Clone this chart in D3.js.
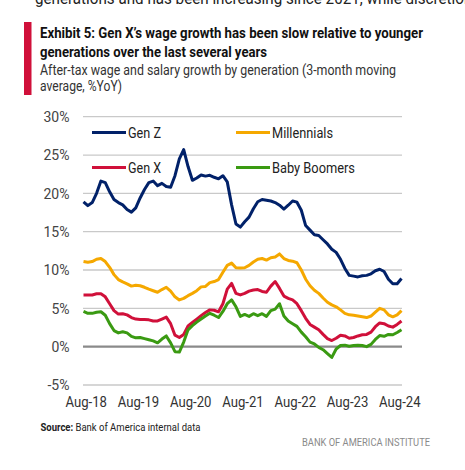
<!DOCTYPE html>
<html><head><meta charset="utf-8">
<script src="https://cdn.jsdelivr.net/npm/d3@7"></script>
<style>
html,body{margin:0;padding:0;background:#fff;}
svg{display:block;}
</style></head>
<body>
<script>
// ---- data ----
const seriesNames = ["Gen Z","Millennials","Gen X","Baby Boomers"];
const tickLabels = ["Aug-18","Aug-19","Aug-20","Aug-21","Aug-22","Aug-23","Aug-24"];
const yTicks = [-5,0,5,10,15,20,25,30];
const genZ = [18.9,18.4,18.8,20.0,21.6,21.4,20.2,19.2,18.8,18.5,17.9,17.55,18.1,19.4,20.5,21.4,21.6,21.0,21.3,20.9,
  20.8,22.3,24.5,25.7,23.5,21.7,22.0,22.4,22.25,22.35,22.1,21.9,22.3,21.5,18.5,16.0,15.6,16.3,16.9,18.0,
  18.9,19.2,19.1,19.0,18.8,18.45,17.95,18.45,19.0,18.85,17.8,15.8,15.2,14.6,14.5,13.95,13.4,12.7,12.3,11.4,
  10.2,9.3,9.2,9.1,9.25,9.3,9.5,9.9,10.1,9.8,8.8,8.2,8.2,8.9];
const millennials = [11.1,11.0,11.1,11.4,11.5,11.1,10.35,9.4,8.75,8.45,8.2,7.9,8.0,7.95,7.75,7.5,7.3,7.1,7.45,7.75,
  7.25,6.5,6.1,6.3,6.65,6.95,7.3,7.8,7.85,8.35,8.5,8.75,9.7,10.6,10.9,10.3,10.25,10.3,10.6,11.05,
  11.4,11.5,11.3,11.6,11.7,12.1,11.5,11.25,11.15,10.95,10.0,8.8,7.95,7.35,6.95,6.35,5.8,5.45,5.2,4.8,
  4.35,4.15,4.1,4.0,3.9,3.8,4.0,4.5,5.0,4.8,4.15,3.9,4.15,4.7];
const genX = [6.75,6.75,6.75,6.9,6.9,6.5,5.6,4.7,4.25,4.3,4.15,3.8,3.6,3.55,3.55,3.5,3.35,3.35,3.6,3.85,
  3.0,1.5,1.2,1.6,2.7,3.15,3.6,4.05,4.45,4.8,4.75,4.55,5.6,7.5,8.25,6.95,6.75,6.95,7.25,7.4,
  7.45,7.2,7.1,7.9,8.5,7.6,6.6,6.3,6.1,5.6,4.7,3.7,2.9,2.55,2.2,1.6,1.05,0.8,1.1,1.5,
  1.4,1.1,1.2,1.4,1.55,1.6,1.9,2.6,3.1,3.0,2.7,2.55,2.9,3.35];
const babyBoomers = [4.6,4.35,4.35,4.5,4.55,4.1,3.0,2.1,1.8,1.95,1.8,1.35,1.15,1.2,1.05,0.9,0.75,0.5,1.0,1.4,
  0.5,-0.65,-0.7,0.6,2.2,2.75,3.2,3.6,4.0,4.35,4.1,3.8,4.6,5.6,6.1,5.2,3.95,4.2,3.95,4.3,
  4.05,4.3,3.95,4.7,4.9,5.6,4.0,3.35,3.0,2.65,1.9,1.3,0.6,0.35,-0.1,-0.4,-0.9,-1.4,-0.3,0.15,
  0.2,0.05,0.15,0.2,0.15,0.0,0.3,0.95,1.45,1.35,1.6,1.55,1.85,2.2];
const seriesValues = [genZ, millennials, genX, babyBoomers];
const colors = ["#012169","#F5A800","#D0103A","#3A9A12"];

// ---- chart ----
const W = 465, H = 470;
const svg = d3.select("body").append("svg").attr("width", W).attr("height", H);
const FONT = "'Roboto','Open Sans',sans-serif";

// cut-off text at top
svg.append("text").attr("x", 35).attr("y", 4).attr("font-family", FONT)
  .attr("font-size", 17).attr("fill", "#222")
  .attr("textLength", 458).attr("lengthAdjust", "spacingAndGlyphs")
  .text("generations and has been increasing since 2021, while discretionary");

// red bar
svg.append("rect").attr("x", 24).attr("y", 22).attr("width", 7.5).attr("height", 73).attr("fill", "#D0103A");

const titleLines = [
  {t:"Exhibit 5: Gen X\u2019s wage growth has been slow relative to younger", y:38, w:383, bold:true, fs:15},
  {t:"generations over the last several years", y:56.5, w:227, bold:true, fs:15},
  {t:"After-tax wage and salary growth by generation (3-month moving", y:75, w:356, bold:false, fs:14.5},
  {t:"average, %YoY)", y:90.5, w:82, bold:false, fs:14.5}
];
titleLines.forEach(l => {
  svg.append("text").attr("x", 40).attr("y", l.y).attr("font-family", FONT)
    .attr("font-size", l.fs).attr("font-weight", l.bold ? "bold" : "normal")
    .attr("fill", l.bold ? "#111" : "#333")
    .attr("textLength", l.w).attr("lengthAdjust", "spacingAndGlyphs")
    .text(l.t);
});

const x = d3.scaleLinear().domain([0, genZ.length - 1]).range([83.5, 401.5]);
const y = d3.scaleLinear().domain([-5, 30]).range([385, 116.7]);

// gridlines
svg.append("g").selectAll("line").data(yTicks).join("line")
  .attr("x1", 83).attr("x2", 402)
  .attr("y1", d => y(d)).attr("y2", d => y(d))
  .attr("stroke", d => d === 0 ? "#8a8a8a" : "#c9c9c9")
  .attr("stroke-width", d => d === 0 ? 2.2 : 1.3);

// y axis labels
const yAxis = d3.axisLeft(y).tickValues(yTicks).tickFormat(d => d + "%").tickSize(0).tickPadding(0);
const gy = svg.append("g").attr("transform", "translate(69.5,0)").call(yAxis);
gy.select(".domain").remove();
gy.selectAll("text").attr("font-family", FONT).attr("font-size", 14).attr("fill", "#444").attr("dy", "0.35em");

// x axis labels
const tickIdx = tickLabels.map((d, i) => i * 12 + 0.5);
const xAxis = d3.axisBottom(x).tickValues(tickIdx).tickFormat((d, i) => tickLabels[i]).tickSize(0).tickPadding(0);
const gx = svg.append("g").attr("transform", "translate(0,396)").call(xAxis);
gx.select(".domain").remove();
gx.selectAll("text").attr("font-family", FONT).attr("font-size", 15).attr("fill", "#333").attr("dy", "0.71em")
  .attr("textLength", 41.5).attr("lengthAdjust", "spacingAndGlyphs");

// lines
const line = d3.line().x((d, i) => x(i)).y(d => y(d)).curve(d3.curveLinear);
seriesValues.forEach((vals, k) => {
  svg.append("path").datum(vals).attr("d", line)
    .attr("fill", "none").attr("stroke", colors[k]).attr("stroke-width", 3)
    .attr("stroke-linejoin", "round").attr("stroke-linecap", "butt");
});

// legend
const legendPos = [[92, 132.5], [236, 132.5], [92, 167.5], [236, 167.5]];
const legendW = [33, 61, 33, 83];
seriesNames.forEach((n, k) => {
  const [lx, ly] = legendPos[k];
  svg.append("line").attr("x1", lx).attr("x2", lx + 34).attr("y1", ly).attr("y2", ly)
    .attr("stroke", colors[k]).attr("stroke-width", 3);
  svg.append("text").attr("x", lx + 36).attr("y", ly).attr("dy", "0.35em")
    .attr("font-family", FONT).attr("font-size", 15).attr("fill", "#222")
    .attr("textLength", legendW[k]).attr("lengthAdjust", "spacingAndGlyphs").text(n);
});

// source
const src = svg.append("text").attr("x", 40.5).attr("y", 431).attr("font-family", FONT)
  .attr("font-size", 10.5).attr("fill", "#222")
  .attr("textLength", 160).attr("lengthAdjust", "spacingAndGlyphs");
src.append("tspan").attr("font-weight", "bold").text("Source:");
src.append("tspan").text(" Bank of America internal data");

svg.append("text").attr("x", 430).attr("y", 446).attr("text-anchor", "end")
  .attr("font-family", FONT).attr("font-size", 10.5).attr("fill", "#8a8a8a")
  .attr("textLength", 128).attr("lengthAdjust", "spacingAndGlyphs")
  .text("BANK OF AMERICA INSTITUTE");
</script>
</body></html>
